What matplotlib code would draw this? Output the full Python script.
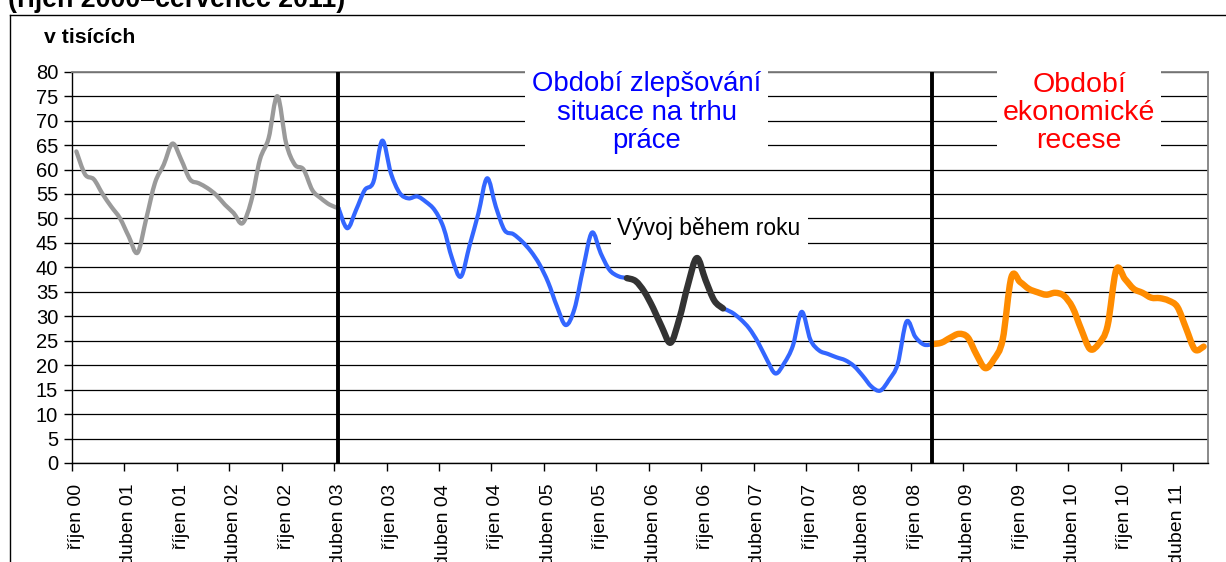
import numpy as np
import matplotlib
matplotlib.use('Agg')
import matplotlib.pyplot as plt
from matplotlib.path import Path
from matplotlib.patches import PathPatch
from matplotlib.lines import Line2D

plt.rcParams['font.family'] = ['Liberation Sans', 'DejaVu Sans']

# index mesice: 0 = rijen 2000 ... 129 = cervenec 2011
start_sede = 0
sede = [63.7, 59, 58, 55, 52.4, 50, 46.3, 43, 50, 57.3, 61, 65.3, 62, 58, 57.2, 56.2,
        54.8, 52.8, 51.1, 49, 53.5, 62, 66.4, 75, 65.4, 61, 60, 55.8, 54.1, 52.8, 52.1]

start_modra1 = 30
modra1 = [52.1, 48, 51.7, 55.8, 57.5, 65.9, 59.2, 55.2, 54.1, 54.5, 53.4, 51.7, 48.2,
          41.8, 38.1, 44.5, 51, 58.2, 52.4, 47.6, 46.8, 45.3, 43.3, 40.6, 36.9, 32,
          28.2, 31.5, 39.8, 47.1, 42.9, 39.5, 38.2, 37.8]

start_cerna = 63
cerna = [37.8, 37.2, 35, 31.7, 27.8, 24.6, 29.5, 36.5, 41.9, 37.4, 33.2, 31.6]

start_modra2 = 74
modra2 = [31.6, 30.8, 29.4, 27.5, 24.7, 21.2, 18.3, 20.4, 24, 30.9, 25.2, 23, 22.3,
          21.6, 21, 19.8, 17.8, 15.6, 14.8, 17, 20.3, 28.9, 25.8, 24.2, 24.3]

start_oranz = 98
oranzova = [24.3, 24.6, 25.6, 26.4, 25.7, 22.2, 19.4, 21.2, 25.2, 38, 37, 35.6, 34.9,
            34.4, 34.8, 34.2, 31.8, 27.3, 23.3, 24.4, 28, 39.5, 37.6, 35.6, 34.8, 33.8,
            33.7, 33.2, 31.9, 27.5, 23.2, 23.8]

popisky = ['říjen 00', 'duben 01', 'říjen 01', 'duben 02', 'říjen 02', 'duben 03',
           'říjen 03', 'duben 04', 'říjen 04', 'duben 05', 'říjen 05', 'duben 06',
           'říjen 06', 'duben 07', 'říjen 07', 'duben 08', 'říjen 08', 'duben 09',
           'říjen 09', 'duben 10', 'říjen 10', 'duben 11']


def smooth_path(x0, vals):
    # excel-like smoothed line as cubic bezier
    pts = np.column_stack([np.arange(len(vals)) + x0, np.array(vals, dtype=float)])
    n = len(pts)
    verts = [pts[0]]
    codes = [Path.MOVETO]
    for i in range(n - 1):
        p0 = pts[max(i - 1, 0)]
        p1 = pts[i]
        p2 = pts[i + 1]
        p3 = pts[min(i + 2, n - 1)]
        verts += [p1 + (p2 - p0) / 6, p2 - (p3 - p1) / 6, p2]
        codes += [Path.CURVE4] * 3
    return Path(verts, codes)


fig = plt.figure(figsize=(12.26, 5.62), dpi=100)
ax = fig.add_axes([72 / 1226, 1 - 463 / 562, (1208 - 72) / 1226, (463 - 71.7) / 562])

ax.set_xlim(-0.5, 129.5)
ax.set_ylim(0, 80)
ax.set_yticks(np.arange(0, 81, 5))
ax.grid(axis='y', color='black', lw=0.9, zorder=0)
ax.set_axisbelow(True)

for start, vals, col, lw in [(start_sede, sede, '#9a9a9a', 3.1),
                             (start_modra1, modra1, '#3366ff', 3.0),
                             (start_modra2, modra2, '#3366ff', 3.0),
                             (start_cerna, cerna, '#333333', 4.6),
                             (start_oranz, oranzova, '#ff8c00', 4.6)]:
    ax.add_patch(PathPatch(smooth_path(start, vals), facecolor='none', edgecolor=col,
                           lw=lw, capstyle='round', joinstyle='round', zorder=3))

ax.axvline(29.9, color='black', lw=2.8, zorder=5)
ax.axvline(97.9, color='black', lw=2.8, zorder=5)

ax.text(65.3, 71.6, 'Období zlepšování\nsituace na trhu\npráce', color='#0000ff',
        fontsize=19.8, ha='center', va='center', linespacing=1.13, zorder=6,
        bbox=dict(boxstyle='square,pad=0.25', fc='white', ec='none'))
ax.text(114.75, 71.6, 'Období\nekonomické\nrecese', color='#ff0000',
        fontsize=20.5, ha='center', va='center', linespacing=1.1, zorder=6,
        bbox=dict(boxstyle='square,pad=0.2', fc='white', ec='none'))
ax.text(72.4, 47.9, 'Vývoj během roku', color='black', fontsize=16.5,
        ha='center', va='center', zorder=6,
        bbox=dict(boxstyle='square,pad=0.3', fc='white', ec='none'))

ax.set_xticks(np.arange(0, 127, 6))
ax.set_xticklabels(popisky, rotation=90, fontsize=14)
ax.set_xticks(np.arange(-0.5, 126, 6), minor=True)
ax.tick_params(axis='x', which='major', length=0, pad=15)
ax.tick_params(axis='x', which='minor', length=6, width=1, direction='out')
ax.tick_params(axis='y', length=6, width=1, direction='out', pad=4, labelsize=14.5)

for s in ['left', 'bottom']:
    ax.spines[s].set_color('black')
    ax.spines[s].set_linewidth(1)
for s in ['top', 'right']:
    ax.spines[s].set_color('#808080')
    ax.spines[s].set_linewidth(1.3)

# ramecek grafu
fig.add_artist(Line2D([10 / 1226, 1], [1 - 15 / 562, 1 - 15 / 562], color='black', lw=1))
fig.add_artist(Line2D([10 / 1226, 10 / 1226], [0, 1 - 15 / 562], color='black', lw=1))

fig.text(8 / 1226, 1 - 7 / 562, '(říjen 2000–červenec 2011)', fontsize=19.3,
         fontweight='bold', ha='left', va='baseline')
fig.text(44 / 1226, 1 - 43 / 562, 'v tisících', fontsize=15.3, fontweight='bold',
         ha='left', va='baseline')

fig.savefig('out.png', dpi=100)
